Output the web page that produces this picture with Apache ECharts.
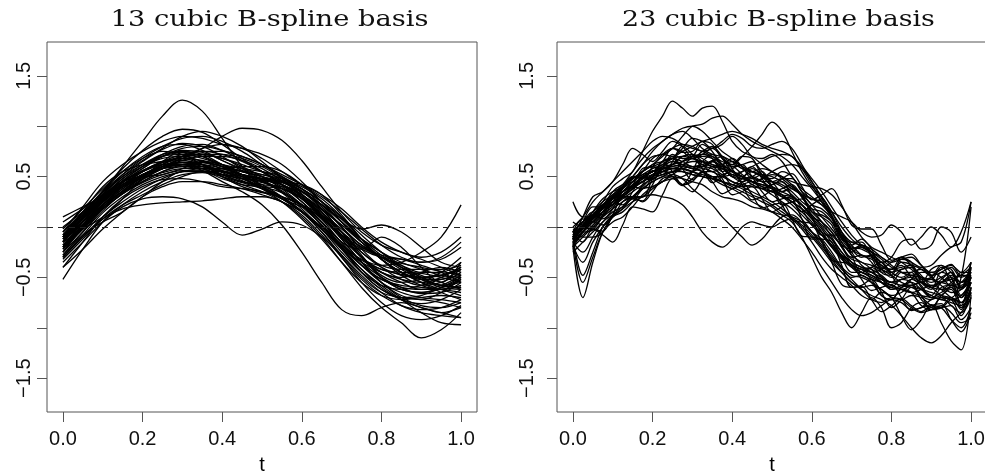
<!DOCTYPE html>
<html>
<head>
<meta charset="utf-8">
<script src="https://cdn.jsdelivr.net/npm/echarts@6/dist/echarts.min.js"></script>
<style>
  html, body { margin: 0; padding: 0; background: #fff; }
  #chart { width: 985px; height: 475px; }
</style>
</head>
<body>
<div id="chart"></div>
<script>
// sampling grid of the fitted curves
var tLeft = [0, 0.05, 0.1, 0.15, 0.2, 0.25, 0.3, 0.35, 0.4, 0.45, 0.5, 0.55, 0.6, 0.65, 0.7, 0.75, 0.8, 0.85, 0.9, 0.95, 1];
var tRight = [0, 0.025, 0.05, 0.075, 0.1, 0.125, 0.15, 0.175, 0.2, 0.225, 0.25, 0.275, 0.3, 0.325, 0.35, 0.375, 0.4,
  0.425, 0.45, 0.475, 0.5, 0.525, 0.55, 0.575, 0.6, 0.625, 0.65, 0.675, 0.7, 0.725, 0.75, 0.775, 0.8, 0.825, 0.85,
  0.875, 0.9, 0.925, 0.95, 0.975, 1];

var xTicks = [0, 0.2, 0.4, 0.6, 0.8, 1];
var yTicks = [-1.5, -1, -0.5, 0, 0.5, 1, 1.5];
var yLabels = [-1.5, -0.5, 0.5, 1.5];

// 13 cubic B-spline basis fits
var fits13 = [
  [-0.10, 0.10, 0.32, 0.50, 0.65, 0.77, 0.83, 0.80, 0.70, 0.58, 0.47, 0.36, 0.22, 0.02, -0.18, -0.33, -0.42, -0.47, -0.50, -0.48, -0.40],
  [-0.20, -0.02, 0.18, 0.33, 0.45, 0.55, 0.60, 0.60, 0.56, 0.52, 0.48, 0.40, 0.25, 0.05, -0.15, -0.35, -0.50, -0.60, -0.66, -0.65, -0.55],
  [-0.05, 0.15, 0.35, 0.52, 0.66, 0.78, 0.90, 0.95, 0.90, 0.80, 0.65, 0.48, 0.30, 0.12, -0.05, -0.20, -0.30, -0.38, -0.45, -0.45, -0.35],
  [-0.30, -0.10, 0.10, 0.25, 0.38, 0.48, 0.55, 0.56, 0.52, 0.48, 0.44, 0.38, 0.28, 0.10, -0.12, -0.35, -0.55, -0.70, -0.78, -0.80, -0.75],
  [-0.15, 0.08, 0.30, 0.48, 0.62, 0.72, 0.75, 0.70, 0.60, 0.52, 0.47, 0.42, 0.30, 0.12, -0.10, -0.30, -0.42, -0.45, -0.46, -0.50, -0.55],
  [0.10, 0.20, 0.30, 0.40, 0.50, 0.60, 0.68, 0.72, 0.72, 0.68, 0.60, 0.48, 0.30, 0.10, -0.08, -0.22, -0.30, -0.32, -0.35, -0.30, -0.15],
  [-0.40, -0.15, 0.10, 0.28, 0.40, 0.47, 0.48, 0.45, 0.40, 0.38, 0.35, 0.28, 0.15, -0.05, -0.28, -0.50, -0.65, -0.70, -0.72, -0.75, -0.80],
  [-0.18, 0.05, 0.28, 0.45, 0.58, 0.70, 0.78, 0.80, 0.76, 0.70, 0.62, 0.50, 0.33, 0.12, -0.10, -0.30, -0.45, -0.55, -0.62, -0.62, -0.52],
  [-0.25, 0.00, 0.22, 0.40, 0.55, 0.65, 0.68, 0.62, 0.50, 0.40, 0.34, 0.30, 0.22, 0.05, -0.20, -0.45, -0.62, -0.70, -0.68, -0.60, -0.50],
  [-0.12, 0.02, 0.18, 0.33, 0.47, 0.58, 0.66, 0.70, 0.70, 0.66, 0.58, 0.46, 0.32, 0.17, 0.02, -0.12, -0.25, -0.38, -0.50, -0.58, -0.60],
  [-0.08, 0.12, 0.35, 0.60, 0.85, 1.10, 1.26, 1.15, 0.88, 0.60, 0.40, 0.28, 0.15, -0.02, -0.20, -0.35, -0.45, -0.52, -0.55, -0.50, -0.40],
  [-0.35, -0.15, 0.05, 0.20, 0.28, 0.30, 0.28, 0.20, 0.05, -0.08, -0.02, 0.05, 0.02, -0.10, -0.28, -0.48, -0.65, -0.78, -0.85, -0.88, -0.90],
  [-0.10, 0.08, 0.28, 0.42, 0.52, 0.60, 0.68, 0.78, 0.90, 0.98, 0.96, 0.86, 0.66, 0.40, 0.15, -0.05, -0.18, -0.25, -0.30, -0.25, -0.10],
  [-0.20, 0.02, 0.24, 0.40, 0.52, 0.60, 0.62, 0.58, 0.50, 0.42, 0.35, 0.25, 0.10, -0.10, -0.35, -0.60, -0.80, -0.95, -1.10, -1.02, -0.85],
  [-0.15, 0.05, 0.25, 0.40, 0.50, 0.58, 0.62, 0.62, 0.58, 0.52, 0.45, 0.35, 0.20, 0.02, -0.18, -0.32, -0.38, -0.35, -0.25, -0.10, 0.22],
  [-0.05, 0.12, 0.28, 0.40, 0.48, 0.54, 0.58, 0.58, 0.55, 0.50, 0.45, 0.38, 0.28, 0.14, -0.02, -0.18, -0.30, -0.40, -0.48, -0.55, -0.62],
  [-0.28, -0.05, 0.18, 0.36, 0.50, 0.62, 0.70, 0.72, 0.68, 0.60, 0.50, 0.38, 0.22, 0.02, -0.22, -0.45, -0.62, -0.72, -0.76, -0.72, -0.62],
  [-0.15, 0.06, 0.26, 0.42, 0.55, 0.64, 0.68, 0.66, 0.60, 0.56, 0.52, 0.46, 0.36, 0.20, 0.00, -0.18, -0.30, -0.36, -0.40, -0.44, -0.48],
  [-0.10, 0.12, 0.36, 0.58, 0.76, 0.90, 0.97, 0.94, 0.82, 0.68, 0.55, 0.42, 0.28, 0.10, -0.12, -0.35, -0.55, -0.68, -0.72, -0.65, -0.50],
  [-0.22, -0.02, 0.18, 0.33, 0.44, 0.52, 0.56, 0.55, 0.52, 0.50, 0.48, 0.44, 0.35, 0.22, 0.08, -0.02, 0.02, -0.05, -0.20, -0.35, -0.40],
  [-0.52, -0.22, 0.05, 0.22, 0.35, 0.45, 0.52, 0.54, 0.50, 0.44, 0.38, 0.30, 0.15, -0.05, -0.30, -0.55, -0.75, -0.88, -0.92, -0.88, -0.78],
  [-0.08, 0.14, 0.34, 0.50, 0.62, 0.70, 0.72, 0.68, 0.62, 0.58, 0.55, 0.50, 0.38, 0.18, -0.05, -0.25, -0.38, -0.42, -0.42, -0.42, -0.38],
  [-0.18, 0.00, 0.20, 0.36, 0.50, 0.60, 0.64, 0.62, 0.56, 0.48, 0.38, 0.25, 0.08, -0.12, -0.35, -0.55, -0.68, -0.72, -0.70, -0.68, -0.70],
  [-0.30, -0.10, 0.08, 0.18, 0.22, 0.24, 0.25, 0.26, 0.28, 0.30, 0.30, 0.25, 0.12, -0.08, -0.30, -0.52, -0.68, -0.78, -0.82, -0.80, -0.72],
  [0.00, 0.15, 0.30, 0.46, 0.60, 0.72, 0.80, 0.82, 0.76, 0.66, 0.55, 0.45, 0.35, 0.22, 0.05, -0.15, -0.32, -0.45, -0.52, -0.52, -0.42],
  [-0.12, 0.08, 0.30, 0.48, 0.60, 0.68, 0.70, 0.65, 0.58, 0.52, 0.48, 0.45, 0.42, 0.32, 0.12, -0.12, -0.32, -0.45, -0.55, -0.62, -0.68],
  [-0.22, 0.00, 0.22, 0.38, 0.50, 0.58, 0.62, 0.60, 0.55, 0.48, 0.40, 0.30, 0.16, -0.02, -0.22, -0.42, -0.58, -0.72, -0.85, -0.95, -0.97],
  [-0.14, 0.05, 0.26, 0.44, 0.58, 0.70, 0.76, 0.74, 0.66, 0.56, 0.46, 0.34, 0.18, -0.02, -0.25, -0.45, -0.58, -0.62, -0.58, -0.52, -0.48],
  [-0.10, 0.10, 0.30, 0.45, 0.55, 0.62, 0.64, 0.60, 0.52, 0.45, 0.40, 0.34, 0.22, 0.05, -0.15, -0.22, -0.10, -0.20, -0.40, -0.55, -0.35],
  [-0.25, -0.05, 0.16, 0.34, 0.48, 0.58, 0.64, 0.64, 0.60, 0.55, 0.50, 0.42, 0.28, 0.08, -0.16, -0.38, -0.52, -0.58, -0.60, -0.62, -0.65],
  [-0.20, 0.00, 0.22, 0.40, 0.52, 0.60, 0.62, 0.56, 0.45, 0.35, 0.22, 0.02, -0.25, -0.55, -0.82, -0.88, -0.80, -0.75, -0.80, -0.85, -0.80],
  [-0.05, 0.20, 0.45, 0.62, 0.75, 0.85, 0.90, 0.88, 0.82, 0.78, 0.72, 0.62, 0.45, 0.25, 0.05, -0.12, -0.25, -0.35, -0.42, -0.48, -0.50],
  [-0.28, -0.08, 0.05, 0.15, 0.30, 0.45, 0.55, 0.55, 0.48, 0.42, 0.40, 0.38, 0.30, 0.15, -0.05, -0.25, -0.40, -0.48, -0.50, -0.48, -0.42],
  [-0.10, 0.15, 0.40, 0.55, 0.62, 0.65, 0.70, 0.78, 0.82, 0.78, 0.68, 0.55, 0.42, 0.30, 0.15, -0.02, -0.18, -0.30, -0.35, -0.32, -0.20],
  [-0.20, 0.05, 0.30, 0.45, 0.50, 0.52, 0.58, 0.65, 0.62, 0.52, 0.40, 0.30, 0.22, 0.12, -0.05, -0.28, -0.50, -0.62, -0.65, -0.62, -0.60],
  [-0.15, -0.02, 0.10, 0.28, 0.48, 0.65, 0.75, 0.72, 0.62, 0.52, 0.48, 0.45, 0.38, 0.22, 0.00, -0.22, -0.40, -0.52, -0.58, -0.55, -0.45],
  [-0.02, 0.18, 0.38, 0.55, 0.68, 0.75, 0.72, 0.62, 0.52, 0.45, 0.42, 0.40, 0.35, 0.22, 0.05, -0.12, -0.28, -0.40, -0.50, -0.58, -0.55],
  [-0.32, -0.12, 0.08, 0.22, 0.32, 0.42, 0.50, 0.55, 0.55, 0.50, 0.42, 0.30, 0.15, -0.02, -0.20, -0.38, -0.52, -0.60, -0.62, -0.58, -0.48],
  [-0.12, 0.10, 0.32, 0.52, 0.68, 0.80, 0.88, 0.90, 0.85, 0.75, 0.62, 0.50, 0.38, 0.25, 0.08, -0.12, -0.32, -0.48, -0.58, -0.62, -0.58],
  [-0.22, -0.02, 0.20, 0.38, 0.52, 0.58, 0.60, 0.58, 0.58, 0.60, 0.60, 0.55, 0.42, 0.25, 0.05, -0.15, -0.32, -0.45, -0.55, -0.65, -0.72],
  [-0.18, 0.02, 0.22, 0.35, 0.45, 0.55, 0.62, 0.64, 0.60, 0.50, 0.38, 0.28, 0.20, 0.10, -0.08, -0.30, -0.48, -0.55, -0.52, -0.45, -0.30],
  [-0.08, 0.12, 0.30, 0.42, 0.52, 0.62, 0.70, 0.75, 0.75, 0.70, 0.62, 0.52, 0.42, 0.32, 0.18, 0.00, -0.15, -0.25, -0.32, -0.40, -0.48],
  [-0.40, -0.22, -0.02, 0.15, 0.30, 0.40, 0.45, 0.45, 0.42, 0.38, 0.32, 0.25, 0.15, 0.00, -0.20, -0.42, -0.60, -0.72, -0.80, -0.85, -0.90],
  [-0.12, 0.08, 0.28, 0.46, 0.60, 0.70, 0.74, 0.70, 0.62, 0.55, 0.50, 0.45, 0.35, 0.18, -0.05, -0.30, -0.50, -0.62, -0.65, -0.60, -0.52],
  [0.05, 0.18, 0.32, 0.45, 0.56, 0.65, 0.72, 0.75, 0.72, 0.65, 0.55, 0.42, 0.25, 0.08, -0.08, -0.20, -0.28, -0.32, -0.38, -0.45, -0.55],
  [-0.25, 0.00, 0.25, 0.42, 0.55, 0.62, 0.62, 0.58, 0.52, 0.48, 0.46, 0.42, 0.32, 0.15, -0.08, -0.30, -0.45, -0.50, -0.45, -0.40, -0.45],
  [-0.10, 0.05, 0.20, 0.35, 0.50, 0.62, 0.70, 0.72, 0.68, 0.62, 0.55, 0.48, 0.38, 0.25, 0.10, -0.08, -0.25, -0.40, -0.52, -0.60, -0.62],
  [-0.20, 0.02, 0.26, 0.44, 0.56, 0.64, 0.66, 0.62, 0.54, 0.46, 0.38, 0.28, 0.15, 0.00, -0.18, -0.38, -0.55, -0.65, -0.70, -0.72, -0.75],
  [-0.15, 0.10, 0.35, 0.55, 0.70, 0.80, 0.82, 0.76, 0.66, 0.58, 0.52, 0.48, 0.40, 0.28, 0.10, -0.12, -0.32, -0.45, -0.50, -0.48, -0.42],
  [-0.30, -0.08, 0.14, 0.30, 0.42, 0.50, 0.55, 0.58, 0.58, 0.55, 0.50, 0.42, 0.32, 0.18, 0.02, -0.15, -0.30, -0.42, -0.52, -0.58, -0.60]
];

// 23 cubic B-spline basis fits
var fits23 = [
  [-0.05, 0.05, 0.15, 0.12, 0.25, 0.40, 0.50, 0.48, 0.60, 0.72, 0.78, 0.74, 0.75, 0.85, 0.82, 0.68, 0.62, 0.70, 0.68, 0.52, 0.48, 0.55, 0.50, 0.35, 0.28, 0.25, 0.12, -0.10, -0.18, -0.12, -0.22, -0.40, -0.42, -0.30, -0.38, -0.52, -0.50, -0.38, -0.45, -0.60, -0.40],
  [-0.20, -0.70, -0.35, -0.05, 0.10, 0.15, 0.25, 0.38, 0.45, 0.50, 0.52, 0.60, 0.68, 0.62, 0.55, 0.58, 0.60, 0.52, 0.45, 0.42, 0.40, 0.35, 0.30, 0.22, 0.10, 0.05, -0.05, -0.20, -0.35, -0.42, -0.40, -0.50, -0.62, -0.60, -0.52, -0.58, -0.70, -0.68, -0.60, -0.75, -0.55],
  [-0.05, 0.05, 0.12, 0.25, 0.40, 0.48, 0.55, 0.75, 0.95, 1.10, 1.25, 1.18, 1.10, 1.18, 1.20, 1.05, 0.85, 0.75, 0.70, 0.62, 0.55, 0.50, 0.42, 0.30, 0.18, 0.05, -0.10, -0.25, -0.35, -0.40, -0.42, -0.48, -0.55, -0.52, -0.48, -0.55, -0.60, -0.55, -0.50, -0.58, -0.45],
  [-0.10, 0.00, 0.10, 0.18, 0.25, 0.32, 0.40, 0.50, 0.55, 0.60, 0.62, 0.65, 0.70, 0.72, 0.70, 0.65, 0.62, 0.70, 0.80, 0.92, 1.04, 0.95, 0.75, 0.55, 0.40, 0.30, 0.15, -0.05, -0.22, -0.30, -0.28, -0.35, -0.45, -0.50, -0.45, -0.42, -0.50, -0.55, -0.52, -0.48, -0.40],
  [-0.15, -0.05, 0.05, 0.15, 0.22, 0.30, 0.38, 0.45, 0.52, 0.55, 0.58, 0.60, 0.58, 0.55, 0.50, 0.45, 0.40, 0.35, 0.30, 0.25, 0.20, 0.12, 0.05, -0.10, -0.30, -0.50, -0.65, -0.85, -1.00, -0.85, -0.70, -0.80, -1.00, -0.95, -0.80, -0.75, -0.82, -0.80, -0.70, -0.75, -0.60],
  [-0.02, -0.05, -0.03, 0.12, 0.28, 0.30, 0.30, 0.42, 0.56, 0.55, 0.54, 0.65, 0.70, 0.58, 0.44, 0.50, 0.56, 0.42, 0.27, 0.30, 0.36, 0.22, 0.07, 0.05, 0.03, -0.15, -0.33, -0.35, -0.37, -0.52, -0.63, -0.60, -0.57, -0.70, -0.83, -0.80, -0.77, -0.95, -1.13, -1.22, -0.67],
  [-0.20, -0.10, 0.00, 0.10, 0.18, 0.25, 0.30, 0.38, 0.45, 0.50, 0.55, 0.58, 0.60, 0.60, 0.58, 0.52, 0.45, 0.40, 0.35, 0.30, 0.25, 0.18, 0.10, 0.00, -0.10, -0.22, -0.35, -0.45, -0.55, -0.62, -0.68, -0.72, -0.78, -0.88, -1.00, -1.10, -1.15, -1.08, -0.95, -0.85, -0.70],
  [0.05, 0.00, 0.10, 0.22, 0.30, 0.35, 0.45, 0.55, 0.60, 0.58, 0.62, 0.70, 0.72, 0.65, 0.60, 0.62, 0.65, 0.60, 0.55, 0.52, 0.50, 0.45, 0.38, 0.32, 0.28, 0.22, 0.15, 0.10, 0.05, -0.05, -0.10, -0.08, 0.02, -0.05, -0.18, -0.10, 0.00, -0.08, -0.20, -0.05, 0.25],
  [-0.25, -0.15, -0.05, 0.05, 0.15, 0.20, 0.28, 0.30, 0.32, 0.30, 0.28, 0.22, 0.10, -0.05, -0.15, -0.20, -0.12, 0.00, 0.05, 0.02, 0.00, 0.05, 0.08, 0.02, -0.08, -0.20, -0.32, -0.45, -0.55, -0.60, -0.58, -0.62, -0.70, -0.72, -0.68, -0.70, -0.78, -0.80, -0.72, -0.80, -0.65],
  [-0.08, 0.00, 0.15, 0.28, 0.35, 0.40, 0.50, 0.62, 0.70, 0.72, 0.78, 0.90, 1.00, 1.02, 1.08, 1.10, 1.02, 0.92, 0.85, 0.80, 0.75, 0.70, 0.62, 0.50, 0.38, 0.25, 0.10, -0.05, -0.15, -0.18, -0.22, -0.30, -0.35, -0.32, -0.30, -0.38, -0.45, -0.42, -0.38, -0.45, -0.35],
  [-0.12, -0.05, 0.05, 0.15, 0.22, 0.30, 0.38, 0.45, 0.50, 0.55, 0.58, 0.58, 0.55, 0.52, 0.50, 0.50, 0.52, 0.55, 0.60, 0.65, 0.70, 0.72, 0.70, 0.60, 0.48, 0.35, 0.20, 0.05, -0.08, -0.18, -0.25, -0.32, -0.40, -0.45, -0.48, -0.50, -0.52, -0.55, -0.58, -0.60, -0.55],
  [-0.10, 0.05, 0.00, 0.10, 0.25, 0.22, 0.35, 0.50, 0.48, 0.58, 0.72, 0.68, 0.70, 0.82, 0.75, 0.62, 0.68, 0.60, 0.48, 0.52, 0.45, 0.35, 0.40, 0.32, 0.15, 0.12, 0.05, -0.15, -0.25, -0.18, -0.25, -0.45, -0.48, -0.32, -0.35, -0.55, -0.62, -0.45, -0.50, -0.78, -0.40],
  [-0.05, -0.10, -0.10, -0.05, 0.12, 0.30, 0.30, 0.30, 0.48, 0.65, 0.55, 0.42, 0.55, 0.72, 0.68, 0.55, 0.58, 0.62, 0.50, 0.38, 0.42, 0.45, 0.30, 0.15, 0.22, 0.28, 0.10, -0.12, -0.15, -0.15, -0.30, -0.45, -0.42, -0.38, -0.50, -0.55, -0.42, -0.38, -0.55, -0.62, -0.35],
  [-0.15, -0.55, -0.30, -0.05, 0.05, 0.10, 0.20, 0.32, 0.40, 0.45, 0.48, 0.50, 0.55, 0.58, 0.55, 0.50, 0.45, 0.42, 0.40, 0.38, 0.32, 0.25, 0.18, 0.08, -0.05, -0.18, -0.30, -0.42, -0.52, -0.62, -0.72, -0.75, -0.70, -0.72, -0.80, -0.85, -0.82, -0.78, -0.85, -0.95, -0.90],
  [0.00, 0.10, 0.25, 0.35, 0.45, 0.55, 0.65, 0.75, 0.85, 0.90, 0.88, 0.82, 0.78, 0.75, 0.70, 0.62, 0.55, 0.50, 0.42, 0.38, 0.35, 0.30, 0.22, 0.12, 0.02, -0.08, -0.18, -0.28, -0.35, -0.40, -0.45, -0.50, -0.55, -0.52, -0.50, -0.55, -0.60, -0.62, -0.55, -0.48, -0.50],
  [-0.10, 0.00, 0.10, 0.20, 0.30, 0.38, 0.45, 0.52, 0.58, 0.62, 0.68, 0.75, 0.80, 0.85, 0.88, 0.92, 0.95, 0.92, 0.88, 0.82, 0.78, 0.75, 0.70, 0.58, 0.42, 0.25, 0.10, -0.05, -0.18, -0.28, -0.32, -0.38, -0.42, -0.40, -0.38, -0.42, -0.48, -0.45, -0.40, -0.50, -0.45],
  [-0.20, -0.05, 0.08, 0.15, 0.22, 0.32, 0.40, 0.45, 0.52, 0.60, 0.65, 0.62, 0.58, 0.60, 0.65, 0.60, 0.50, 0.45, 0.48, 0.45, 0.38, 0.30, 0.28, 0.22, 0.12, 0.00, -0.12, -0.25, -0.38, -0.45, -0.48, -0.55, -0.62, -0.58, -0.55, -0.62, -0.70, -0.65, -0.60, -0.70, -0.55],
  [-0.10, 0.00, 0.08, 0.18, 0.28, 0.35, 0.42, 0.50, 0.55, 0.58, 0.60, 0.62, 0.60, 0.55, 0.48, 0.42, 0.38, 0.32, 0.25, 0.20, 0.15, 0.08, 0.00, -0.12, -0.25, -0.40, -0.55, -0.70, -0.82, -0.88, -0.85, -0.78, -0.72, -0.75, -0.82, -0.80, -0.72, -0.70, -0.78, -0.85, -0.70],
  [-0.13, 0.05, 0.20, 0.20, 0.22, 0.38, 0.50, 0.48, 0.47, 0.60, 0.70, 0.58, 0.47, 0.55, 0.66, 0.55, 0.42, 0.48, 0.58, 0.52, 0.42, 0.48, 0.53, 0.40, 0.27, 0.32, 0.38, 0.22, 0.02, -0.02, -0.02, -0.18, -0.33, -0.30, -0.27, -0.38, -0.48, -0.42, -0.37, -0.48, -0.48],
  [-0.12, 0.02, 0.12, 0.08, 0.18, 0.35, 0.40, 0.38, 0.50, 0.65, 0.68, 0.58, 0.55, 0.65, 0.72, 0.62, 0.50, 0.55, 0.60, 0.48, 0.35, 0.38, 0.42, 0.30, 0.15, 0.10, 0.02, -0.18, -0.30, -0.28, -0.35, -0.50, -0.55, -0.45, -0.45, -0.60, -0.68, -0.55, -0.52, -0.68, -0.50],
  [0.25, 0.10, 0.10, 0.20, 0.28, 0.35, 0.45, 0.55, 0.60, 0.52, 0.65, 0.80, 0.72, 0.60, 0.65, 0.70, 0.58, 0.45, 0.50, 0.55, 0.40, 0.22, 0.25, 0.28, 0.10, -0.08, -0.08, -0.08, -0.28, -0.45, -0.40, -0.35, -0.48, -0.60, -0.52, -0.40, -0.48, -0.62, -0.58, -0.45, -0.45],
  [-0.12, -0.02, 0.10, 0.20, 0.30, 0.40, 0.50, 0.62, 0.75, 0.85, 0.92, 0.98, 1.00, 0.95, 0.85, 0.75, 0.68, 0.60, 0.55, 0.50, 0.45, 0.40, 0.32, 0.22, 0.10, -0.02, -0.15, -0.28, -0.40, -0.48, -0.52, -0.55, -0.58, -0.62, -0.65, -0.62, -0.58, -0.62, -0.70, -0.75, -0.65],
  [-0.05, -0.15, -0.02, -0.08, -0.15, 0.02, 0.20, 0.18, 0.15, 0.32, 0.48, 0.42, 0.35, 0.48, 0.60, 0.48, 0.32, 0.35, 0.40, 0.28, 0.15, 0.20, 0.25, 0.08, -0.12, -0.12, -0.15, -0.38, -0.60, -0.58, -0.52, -0.65, -0.80, -0.72, -0.60, -0.68, -0.82, -0.80, -0.78, -0.92, -0.80],
  [-0.18, -0.35, -0.15, 0.00, 0.10, 0.18, 0.25, 0.30, 0.38, 0.45, 0.50, 0.48, 0.45, 0.42, 0.35, 0.30, 0.28, 0.25, 0.20, 0.18, 0.15, 0.12, 0.10, 0.05, -0.05, -0.15, -0.28, -0.40, -0.48, -0.50, -0.55, -0.62, -0.68, -0.65, -0.58, -0.62, -0.68, -0.72, -0.70, -0.82, -0.60],
  [-0.10, 0.00, 0.12, 0.22, 0.30, 0.38, 0.48, 0.55, 0.62, 0.65, 0.68, 0.70, 0.68, 0.65, 0.60, 0.58, 0.55, 0.50, 0.45, 0.40, 0.38, 0.32, 0.25, 0.18, 0.08, -0.05, -0.18, -0.30, -0.38, -0.42, -0.45, -0.42, -0.35, -0.30, -0.35, -0.40, -0.38, -0.28, -0.20, -0.15, 0.25],
  [-0.15, 0.00, 0.05, 0.15, 0.25, 0.30, 0.38, 0.48, 0.52, 0.55, 0.62, 0.70, 0.72, 0.68, 0.62, 0.60, 0.62, 0.58, 0.50, 0.45, 0.45, 0.42, 0.35, 0.25, 0.18, 0.15, 0.05, -0.10, -0.22, -0.28, -0.30, -0.38, -0.45, -0.42, -0.40, -0.48, -0.58, -0.55, -0.48, -0.55, -0.50],
  [-0.10, 0.10, 0.30, 0.35, 0.45, 0.62, 0.78, 0.72, 0.65, 0.75, 0.85, 0.80, 0.70, 0.72, 0.78, 0.68, 0.55, 0.50, 0.55, 0.50, 0.40, 0.35, 0.38, 0.30, 0.15, 0.05, -0.05, -0.20, -0.32, -0.35, -0.42, -0.55, -0.60, -0.52, -0.55, -0.68, -0.72, -0.60, -0.58, -0.70, -0.50],
  [-0.15, -0.25, -0.10, 0.05, 0.12, 0.18, 0.30, 0.38, 0.40, 0.45, 0.52, 0.48, 0.38, 0.30, 0.22, 0.10, 0.00, -0.10, -0.18, -0.12, 0.00, 0.10, 0.12, 0.05, -0.05, -0.12, -0.25, -0.40, -0.50, -0.48, -0.55, -0.68, -0.72, -0.62, -0.65, -0.78, -0.82, -0.70, -0.72, -0.88, -0.60],
  [-0.05, 0.00, 0.08, 0.20, 0.35, 0.42, 0.45, 0.55, 0.68, 0.72, 0.70, 0.78, 0.88, 0.85, 0.78, 0.82, 0.90, 0.82, 0.70, 0.68, 0.72, 0.65, 0.50, 0.38, 0.30, 0.22, 0.10, -0.08, -0.20, -0.22, -0.28, -0.42, -0.50, -0.42, -0.40, -0.52, -0.60, -0.52, -0.45, -0.62, -0.50],
  [-0.12, -0.02, 0.08, 0.15, 0.25, 0.35, 0.40, 0.45, 0.50, 0.52, 0.55, 0.58, 0.55, 0.50, 0.48, 0.52, 0.55, 0.50, 0.45, 0.48, 0.52, 0.50, 0.45, 0.42, 0.40, 0.38, 0.32, 0.20, 0.05, -0.10, -0.20, -0.25, -0.30, -0.35, -0.42, -0.50, -0.55, -0.50, -0.45, -0.55, -0.45],
  [-0.10, -0.02, 0.08, 0.18, 0.25, 0.32, 0.40, 0.48, 0.55, 0.58, 0.58, 0.55, 0.52, 0.50, 0.48, 0.45, 0.42, 0.38, 0.32, 0.28, 0.22, 0.15, 0.08, -0.02, -0.15, -0.30, -0.42, -0.50, -0.58, -0.68, -0.72, -0.65, -0.70, -0.88, -1.02, -0.92, -0.78, -0.80, -0.92, -1.00, -0.80],
  [-0.08, 0.02, 0.15, 0.22, 0.28, 0.38, 0.48, 0.52, 0.55, 0.62, 0.68, 0.65, 0.60, 0.62, 0.65, 0.58, 0.50, 0.48, 0.50, 0.45, 0.38, 0.32, 0.30, 0.22, 0.12, 0.02, -0.08, -0.18, -0.22, -0.18, -0.25, -0.35, -0.30, -0.15, -0.12, -0.22, -0.18, 0.00, -0.05, -0.25, -0.10],
  [-0.10, -0.48, -0.25, 0.00, 0.12, 0.20, 0.30, 0.40, 0.50, 0.58, 0.62, 0.65, 0.68, 0.70, 0.68, 0.62, 0.55, 0.50, 0.45, 0.40, 0.35, 0.30, 0.25, 0.18, 0.08, -0.05, -0.20, -0.32, -0.40, -0.45, -0.50, -0.55, -0.60, -0.62, -0.58, -0.55, -0.60, -0.68, -0.72, -0.68, -0.55],
  [-0.05, 0.05, 0.15, 0.25, 0.32, 0.40, 0.48, 0.55, 0.62, 0.70, 0.78, 0.82, 0.80, 0.75, 0.78, 0.85, 0.92, 0.88, 0.80, 0.78, 0.82, 0.85, 0.78, 0.62, 0.45, 0.30, 0.15, 0.00, -0.12, -0.20, -0.25, -0.30, -0.38, -0.45, -0.48, -0.45, -0.45, -0.50, -0.58, -0.55, -0.42],
  [-0.18, -0.05, 0.05, 0.02, 0.10, 0.25, 0.30, 0.25, 0.35, 0.48, 0.50, 0.42, 0.45, 0.55, 0.55, 0.45, 0.38, 0.42, 0.45, 0.35, 0.25, 0.28, 0.30, 0.18, 0.02, -0.05, -0.12, -0.30, -0.45, -0.45, -0.52, -0.68, -0.72, -0.60, -0.58, -0.72, -0.80, -0.68, -0.62, -0.80, -0.62],
  [-0.12, 0.00, 0.10, 0.18, 0.28, 0.35, 0.42, 0.50, 0.55, 0.58, 0.60, 0.62, 0.65, 0.65, 0.62, 0.58, 0.52, 0.48, 0.45, 0.42, 0.38, 0.32, 0.25, 0.15, 0.05, -0.08, -0.20, -0.30, -0.38, -0.42, -0.48, -0.52, -0.55, -0.58, -0.60, -0.62, -0.65, -0.68, -0.70, -0.50, 0.20],
  [-0.20, -0.01, -0.02, -0.04, 0.12, 0.29, 0.28, 0.26, 0.42, 0.57, 0.50, 0.41, 0.48, 0.54, 0.45, 0.33, 0.38, 0.44, 0.32, 0.19, 0.22, 0.24, 0.08, -0.09, -0.10, -0.13, -0.35, -0.57, -0.60, -0.59, -0.72, -0.84, -0.78, -0.71, -0.78, -0.84, -0.78, -0.76, -0.92, -1.04, -0.85],
  [-0.08, 0.02, 0.12, 0.22, 0.32, 0.42, 0.55, 0.68, 0.78, 0.85, 0.92, 0.95, 0.88, 0.78, 0.72, 0.70, 0.65, 0.58, 0.55, 0.58, 0.55, 0.48, 0.40, 0.32, 0.22, 0.10, -0.02, -0.15, -0.28, -0.35, -0.38, -0.42, -0.48, -0.55, -0.58, -0.55, -0.52, -0.58, -0.65, -0.62, -0.48],
  [-0.15, -0.08, 0.02, 0.12, 0.20, 0.28, 0.35, 0.42, 0.48, 0.52, 0.55, 0.55, 0.52, 0.50, 0.48, 0.45, 0.42, 0.40, 0.42, 0.48, 0.55, 0.60, 0.62, 0.58, 0.45, 0.28, 0.10, -0.08, -0.25, -0.38, -0.45, -0.52, -0.58, -0.62, -0.65, -0.68, -0.70, -0.72, -0.75, -0.78, -0.65],
  [-0.05, 0.08, 0.05, 0.15, 0.30, 0.32, 0.42, 0.58, 0.60, 0.65, 0.78, 0.75, 0.68, 0.75, 0.80, 0.70, 0.60, 0.62, 0.65, 0.55, 0.45, 0.48, 0.48, 0.35, 0.22, 0.18, 0.08, -0.12, -0.22, -0.20, -0.28, -0.42, -0.45, -0.35, -0.38, -0.50, -0.52, -0.40, -0.42, -0.60, -0.35]
];

var chart = echarts.init(document.getElementById('chart'));

function fmt(v) {
  return (v < 0 ? '\u2212' : '') + Math.abs(v).toFixed(1);
}

function xAxisFor(idx) {
  return {
    type: 'value', gridIndex: idx, min: -0.04, max: 1.04,
    name: 't', nameLocation: 'middle', nameGap: 43,
    nameTextStyle: { fontFamily: 'Liberation Sans', fontSize: 20, color: '#000' },
    axisLine: { show: false, onZero: false },
    splitLine: { show: false },
    axisTick: { show: true, customValues: xTicks, length: 10, lineStyle: { color: '#555', width: 1 } },
    axisLabel: { customValues: xTicks, margin: 17, fontFamily: 'Liberation Sans', fontSize: 20, color: '#111',
      formatter: function (v) { return v.toFixed(1); } }
  };
}

function yAxisFor(idx, margin) {
  return {
    type: 'value', gridIndex: idx, min: -1.836, max: 1.836,
    axisLine: { show: false, onZero: false },
    splitLine: { show: false },
    axisTick: { show: true, customValues: yTicks, length: 10, lineStyle: { color: '#555', width: 1 } },
    axisLabel: { customValues: yLabels, rotate: 90, margin: margin, fontFamily: 'Liberation Sans', fontSize: 20,
      color: '#111', formatter: fmt }
  };
}

function curveSeries(ts, fits, idx) {
  var out = fits.map(function (ys) {
    return {
      type: 'line', xAxisIndex: idx, yAxisIndex: idx,
      data: ts.map(function (t, i) { return [t, ys[i]]; }),
      smooth: 0.35, symbol: 'none', silent: true,
      lineStyle: { color: '#000', width: 1.3 }
    };
  });
  // dashed reference line at zero
  out[0].markLine = {
    silent: true, symbol: 'none', label: { show: false },
    lineStyle: { color: '#222', type: [6, 5], width: 1 },
    data: [{ yAxis: 0 }]
  };
  return out;
}

chart.setOption({
  animation: false,
  backgroundColor: '#fff',
  grid: [
    { left: 47, top: 42, width: 430, height: 370, outerBoundsMode: 'none', containLabel: false,
      show: true, borderColor: '#555', borderWidth: 1 },
    { left: 557, top: 42, width: 430, height: 370, outerBoundsMode: 'none', containLabel: false,
      show: true, borderColor: '#555', borderWidth: 1 }
  ],
  xAxis: [xAxisFor(0), xAxisFor(1)],
  yAxis: [yAxisFor(0, 13), yAxisFor(1, 20)],
  graphic: [
    { type: 'text', x: 269.5, y: 20, scaleX: 1.24,
      style: { text: '13 cubic B-spline basis', font: '22px "DejaVu Serif"', fill: '#111', align: 'center', verticalAlign: 'middle' } },
    { type: 'text', x: 778.5, y: 20, scaleX: 1.22,
      style: { text: '23 cubic B-spline basis', font: '22px "DejaVu Serif"', fill: '#111', align: 'center', verticalAlign: 'middle' } }
  ],
  series: curveSeries(tLeft, fits13, 0).concat(curveSeries(tRight, fits23, 1))
});
</script>
</body>
</html>
